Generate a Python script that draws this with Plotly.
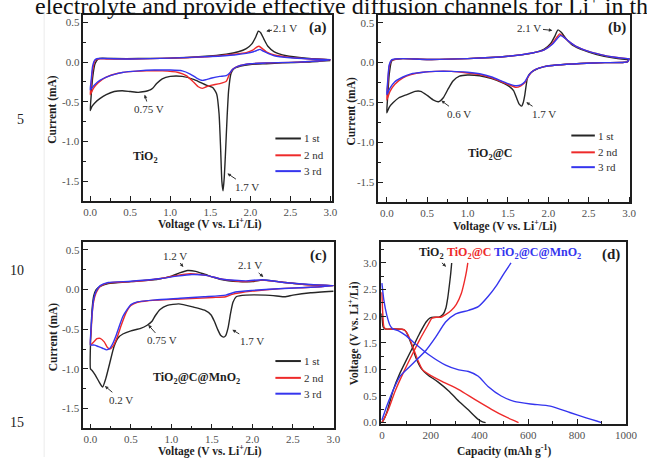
import plotly.graph_objects as go

W, H = 647, 462
FONT = "Liberation Serif"
C_BLACK, C_RED, C_BLUE = "#262626", "#ee2a2a", "#3535ee"

# ---------------- data ----------------
# (a) TiO2 CV, path: cathodic 3.0 -> 0.0 then anodic 0.0 -> 3.0
a1_v = [3.0, 2.7, 2.4, 2.2, 2.0, 1.88, 1.80, 1.76, 1.73, 1.71, 1.69, 1.675, 1.66, 1.645, 1.63, 1.61, 1.58, 1.53, 1.45, 1.3, 1.15, 1.0, 0.9, 0.83, 0.78, 0.75, 0.72, 0.68, 0.6, 0.5, 0.4, 0.3, 0.2, 0.12, 0.06, 0.02, 0.0,
        0.01, 0.03, 0.06, 0.1, 0.15, 0.3, 0.6, 1.0, 1.4, 1.7, 1.85, 1.95, 2.02, 2.07, 2.10, 2.13, 2.17, 2.22, 2.3, 2.45, 2.7, 3.0]
a1_i = [0.02, 0.0, -0.01, -0.02, -0.03, -0.05, -0.08, -0.14, -0.35, -0.7, -1.15, -1.45, -1.62, -1.5, -1.1, -0.65, -0.4, -0.32, -0.29, -0.22, -0.18, -0.18, -0.21, -0.27, -0.33, -0.35, -0.36, -0.37, -0.38, -0.37, -0.36, -0.37, -0.41, -0.46, -0.51, -0.56, -0.61,
        -0.45, -0.2, -0.02, 0.04, 0.05, 0.045, 0.045, 0.05, 0.07, 0.1, 0.13, 0.17, 0.23, 0.32, 0.39, 0.37, 0.29, 0.2, 0.13, 0.08, 0.05, 0.03]
a2_v = [3.0, 2.6, 2.2, 2.0, 1.85, 1.78, 1.74, 1.70, 1.62, 1.52, 1.45, 1.40, 1.35, 1.28, 1.2, 1.1, 0.9, 0.7, 0.5, 0.35, 0.2, 0.1, 0.04, 0.0,
        0.01, 0.03, 0.06, 0.1, 0.2, 0.5, 1.0, 1.5, 1.8, 1.95, 2.03, 2.08, 2.11, 2.15, 2.2, 2.3, 2.5, 2.75, 3.0]
a2_i = [0.03, 0.0, -0.01, -0.02, -0.05, -0.09, -0.15, -0.24, -0.27, -0.29, -0.31, -0.33, -0.31, -0.24, -0.17, -0.13, -0.11, -0.11, -0.12, -0.14, -0.19, -0.26, -0.33, -0.41,
        -0.3, -0.1, 0.02, 0.04, 0.04, 0.04, 0.05, 0.07, 0.1, 0.12, 0.15, 0.19, 0.2, 0.17, 0.13, 0.09, 0.06, 0.04, 0.03]
a3_v = [3.0, 2.6, 2.2, 2.0, 1.85, 1.78, 1.74, 1.70, 1.62, 1.52, 1.45, 1.40, 1.33, 1.25, 1.15, 1.0, 0.8, 0.6, 0.4, 0.25, 0.12, 0.05, 0.0,
        0.01, 0.03, 0.06, 0.1, 0.2, 0.5, 1.0, 1.5, 1.8, 1.95, 2.04, 2.09, 2.12, 2.16, 2.22, 2.3, 2.5, 2.75, 3.0]
a3_i = [0.03, 0.0, -0.01, -0.02, -0.05, -0.09, -0.14, -0.17, -0.18, -0.2, -0.22, -0.23, -0.2, -0.15, -0.11, -0.1, -0.1, -0.11, -0.13, -0.17, -0.23, -0.29, -0.35,
        -0.25, -0.05, 0.03, 0.045, 0.045, 0.04, 0.05, 0.07, 0.09, 0.11, 0.13, 0.15, 0.16, 0.14, 0.11, 0.08, 0.055, 0.04, 0.03]

# (b) TiO2@C CV
b1_v = [3.0, 2.98, 2.7, 2.4, 2.1, 1.95, 1.82, 1.77, 1.74, 1.71, 1.69, 1.67, 1.64, 1.61, 1.57, 1.52, 1.45, 1.3, 1.15, 1.0, 0.9, 0.82, 0.76, 0.7, 0.64, 0.58, 0.5, 0.42, 0.35, 0.25, 0.15, 0.08, 0.03, 0.0,
        0.01, 0.03, 0.06, 0.1, 0.2, 0.5, 1.0, 1.5, 1.8, 1.95, 2.03, 2.08, 2.12, 2.16, 2.22, 2.3, 2.45, 2.6, 2.8, 2.98, 3.0]
b1_i = [0.05, 0.01, 0.0, -0.01, -0.03, -0.05, -0.1, -0.14, -0.2, -0.4, -0.5, -0.545, -0.52, -0.45, -0.35, -0.3, -0.26, -0.2, -0.165, -0.155, -0.17, -0.23, -0.33, -0.44, -0.49, -0.47, -0.41, -0.36, -0.36, -0.40, -0.44, -0.5, -0.56, -0.63,
        -0.45, -0.15, 0.02, 0.04, 0.05, 0.04, 0.05, 0.08, 0.12, 0.17, 0.24, 0.33, 0.41, 0.38, 0.3, 0.22, 0.15, 0.1, 0.06, 0.04, 0.05]
b2_v = [3.0, 2.98, 2.7, 2.4, 2.1, 1.95, 1.85, 1.79, 1.75, 1.71, 1.66, 1.60, 1.52, 1.42, 1.3, 1.15, 1.0, 0.8, 0.6, 0.45, 0.3, 0.2, 0.1, 0.04, 0.0,
        0.01, 0.03, 0.06, 0.1, 0.2, 0.5, 1.0, 1.5, 1.8, 1.95, 2.04, 2.1, 2.14, 2.18, 2.25, 2.35, 2.5, 2.65, 2.8, 2.98, 3.0]
b2_i = [0.05, 0.01, 0.0, -0.01, -0.03, -0.05, -0.08, -0.12, -0.18, -0.25, -0.29, -0.31, -0.28, -0.24, -0.19, -0.15, -0.13, -0.11, -0.11, -0.12, -0.15, -0.19, -0.27, -0.36, -0.47,
        -0.3, -0.05, 0.03, 0.04, 0.05, 0.04, 0.05, 0.08, 0.12, 0.16, 0.23, 0.31, 0.36, 0.33, 0.27, 0.2, 0.14, 0.1, 0.07, 0.05, 0.05]
b3_v = [3.0, 2.98, 2.7, 2.4, 2.1, 1.95, 1.85, 1.79, 1.75, 1.71, 1.66, 1.60, 1.52, 1.42, 1.3, 1.15, 1.0, 0.8, 0.6, 0.45, 0.3, 0.2, 0.1, 0.04, 0.0,
        0.01, 0.03, 0.06, 0.1, 0.2, 0.5, 1.0, 1.5, 1.8, 1.95, 2.05, 2.11, 2.15, 2.19, 2.25, 2.35, 2.5, 2.65, 2.8, 2.98, 3.0]
b3_i = [0.05, 0.01, 0.0, -0.01, -0.03, -0.05, -0.08, -0.12, -0.17, -0.24, -0.28, -0.29, -0.27, -0.23, -0.18, -0.14, -0.12, -0.11, -0.11, -0.12, -0.14, -0.18, -0.24, -0.32, -0.40,
        -0.25, -0.03, 0.035, 0.045, 0.05, 0.04, 0.05, 0.08, 0.12, 0.16, 0.23, 0.3, 0.34, 0.32, 0.27, 0.2, 0.14, 0.1, 0.07, 0.05, 0.05]

# (c) TiO2@C@MnO2 CV
c1_v = [3.0, 2.72, 2.5, 2.4, 2.3, 2.16, 1.92, 1.80, 1.76, 1.73, 1.70, 1.67, 1.645, 1.61, 1.57, 1.53, 1.49, 1.41, 1.27, 1.09, 0.95, 0.86, 0.8, 0.76, 0.7, 0.62, 0.5, 0.4, 0.34, 0.29, 0.24, 0.19, 0.15, 0.11, 0.06, 0.02, 0.0,
        0.0, 0.01, 0.02, 0.04, 0.07, 0.12, 0.22, 0.5, 0.83, 1.0, 1.1, 1.2, 1.3, 1.42, 1.6, 1.83, 2.0, 2.12, 2.25, 2.4, 2.72, 3.0]
c1_i = [-0.02, -0.04, -0.07, -0.09, -0.08, -0.07, -0.07, -0.09, -0.16, -0.3, -0.48, -0.58, -0.60, -0.58, -0.5, -0.4, -0.32, -0.26, -0.22, -0.18, -0.20, -0.25, -0.33, -0.40, -0.45, -0.49, -0.52, -0.56, -0.61, -0.72, -0.92, -1.12, -1.23, -1.17, -1.08, -1.02, -1.0,
        -0.7, -0.45, -0.25, -0.08, 0.0, 0.04, 0.075, 0.10, 0.13, 0.17, 0.21, 0.24, 0.23, 0.19, 0.13, 0.10, 0.10, 0.12, 0.11, 0.09, 0.06, 0.05]
c2_v = [3.0, 2.72, 2.32, 2.0, 1.85, 1.75, 1.67, 1.51, 1.11, 0.71, 0.58, 0.5, 0.44, 0.38, 0.33, 0.28, 0.24, 0.21, 0.17, 0.12, 0.08, 0.04, 0.0,
        0.01, 0.02, 0.04, 0.07, 0.12, 0.22, 0.5, 0.87, 1.07, 1.23, 1.43, 1.63, 1.92, 2.12, 2.4, 2.72, 3.0]
c2_i = [0.05, 0.03, 0.01, -0.02, -0.04, -0.06, -0.09, -0.10, -0.12, -0.14, -0.16, -0.2, -0.29, -0.45, -0.6, -0.71, -0.75, -0.73, -0.66, -0.615, -0.62, -0.66, -0.70,
        -0.5, -0.32, -0.15, -0.04, 0.04, 0.085, 0.10, 0.14, 0.18, 0.20, 0.18, 0.13, 0.10, 0.12, 0.09, 0.06, 0.05]
c3_v = [3.0, 2.72, 2.32, 2.0, 1.79, 1.67, 1.4, 1.11, 0.8, 0.58, 0.5, 0.46, 0.4, 0.36, 0.32, 0.28, 0.24, 0.2, 0.15, 0.1, 0.05, 0.02, 0.0,
        0.01, 0.02, 0.04, 0.07, 0.12, 0.22, 0.5, 0.87, 1.07, 1.25, 1.43, 1.63, 1.92, 2.12, 2.4, 2.72, 3.0]
c3_i = [0.05, 0.03, 0.01, -0.01, -0.03, -0.07, -0.09, -0.11, -0.13, -0.155, -0.19, -0.24, -0.34, -0.45, -0.57, -0.67, -0.74, -0.76, -0.74, -0.72, -0.70, -0.70, -0.70,
        -0.45, -0.3, -0.12, -0.02, 0.05, 0.09, 0.105, 0.14, 0.17, 0.19, 0.18, 0.13, 0.11, 0.125, 0.09, 0.065, 0.05]

# (d) charge/discharge profiles (capacity mAh/g, voltage V)
d_tio2_dis_q = [0, 5, 12, 50, 80, 92, 100, 110, 120, 141, 161, 187, 228, 275, 315, 355, 395, 410, 425]
d_tio2_dis_v = [2.05, 1.80, 1.76, 1.76, 1.755, 1.74, 1.70, 1.60, 1.48, 1.2, 1.02, 0.90, 0.77, 0.59, 0.40, 0.235, 0.06, 0.02, 0.0]
d_tio2_chg_q = [0, 8, 20, 47, 74, 100, 127, 154, 181, 198, 215, 234, 250, 262, 270, 277, 282, 286]
d_tio2_chg_v = [0.0, 0.06, 0.19, 0.62, 0.93, 1.175, 1.42, 1.67, 1.89, 1.97, 1.98, 1.98, 2.03, 2.15, 2.35, 2.6, 2.8, 3.0]
d_c_dis_q = [0, 3, 8, 15, 50, 85, 95, 107, 127, 147, 167, 194, 248, 315, 382, 449, 502, 540, 560]
d_c_dis_v = [2.45, 2.1, 1.8, 1.76, 1.76, 1.755, 1.73, 1.65, 1.42, 1.175, 0.99, 0.90, 0.77, 0.62, 0.43, 0.25, 0.12, 0.04, 0.0]
d_c_chg_q = [0, 10, 27, 54, 87, 120, 154, 187, 205, 222, 241, 261, 285, 305, 325, 338, 347, 352]
d_c_chg_v = [0.0, 0.08, 0.25, 0.59, 0.93, 1.24, 1.55, 1.82, 1.96, 1.98, 1.98, 2.03, 2.11, 2.22, 2.42, 2.65, 2.85, 3.0]
d_mn_dis_q = [0, 8, 20, 33, 45, 70, 100, 127, 194, 261, 315, 355, 395, 435, 489, 542, 609, 690, 770, 837, 880, 900]
d_mn_dis_v = [2.62, 2.3, 2.02, 1.83, 1.76, 1.72, 1.63, 1.52, 1.27, 1.08, 0.99, 0.96, 0.87, 0.68, 0.50, 0.40, 0.35, 0.31, 0.19, 0.09, 0.03, 0.0]
d_mn_chg_q = [0, 10, 20, 47, 74, 127, 181, 221, 261, 301, 355, 395, 435, 470, 500, 529]
d_mn_chg_v = [0.05, 0.18, 0.31, 0.62, 0.87, 1.11, 1.36, 1.61, 1.89, 2.04, 2.11, 2.18, 2.37, 2.58, 2.8, 3.0]

cycle_names = ["1 st", "2 nd", "3 rd"]
cv_x_ticks = [0.0, 0.5, 1.0, 1.5, 2.0, 2.5, 3.0]
cv_x_labels = ["0.0", "0.5", "1.0", "1.5", "2.0", "2.5", "3.0"]
cv_y_ticks = [-1.5, -1.0, -0.5, 0.0, 0.5]
cv_y_labels = ["-1.5", "-1.0", "-0.5", "0.0", "0.5"]
d_x_ticks = [0, 200, 400, 600, 800, 1000]
d_x_labels = ["0", "200", "400", "600", "800", "1000"]
d_y_ticks = [0.0, 0.5, 1.0, 1.5, 2.0, 2.5, 3.0]
d_y_labels = ["0.0", "0.5", "1.0", "1.5", "2.0", "2.5", "3.0"]

# ---------------- figure ----------------
fig = go.Figure()

def px_x(p):
    return p / W

def px_y(p):
    return 1 - p / H

def add_line(x, y, color, xa, ya, name, smooth=0.6):
    fig.add_trace(go.Scatter(x=x, y=y, mode="lines", name=name, showlegend=False,
                             line=dict(color=color, width=1.4, shape="spline", smoothing=smooth),
                             xaxis=xa, yaxis=ya))

colors = [C_BLACK, C_RED, C_BLUE]
panels = [
    (((a1_v, a1_i), (a2_v, a2_i), (a3_v, a3_i)), "x", "y"),
    (((b1_v, b1_i), (b2_v, b2_i), (b3_v, b3_i)), "x2", "y2"),
    (((c1_v, c1_i), (c2_v, c2_i), (c3_v, c3_i)), "x3", "y3"),
]
for curves, xa, ya in panels:
    for (v, i), col, nm in zip(curves, colors, cycle_names):
        add_line(v, i, col, xa, ya, nm, smooth=0.5)

for q, v, col, nm in [(d_tio2_dis_q, d_tio2_dis_v, C_BLACK, "TiO2 discharge"),
                      (d_tio2_chg_q, d_tio2_chg_v, C_BLACK, "TiO2 charge"),
                      (d_c_dis_q, d_c_dis_v, C_RED, "TiO2@C discharge"),
                      (d_c_chg_q, d_c_chg_v, C_RED, "TiO2@C charge"),
                      (d_mn_dis_q, d_mn_dis_v, C_BLUE, "TiO2@C@MnO2 discharge"),
                      (d_mn_chg_q, d_mn_chg_v, C_BLUE, "TiO2@C@MnO2 charge")]:
    add_line(q, v, col, "x4", "y4", nm, smooth=0.6)

tickfont = dict(family=FONT, size=11, color="#505050")

def axis(domain, rng, tv, tt, minor_dtick, anchor):
    return dict(domain=domain, range=rng, anchor=anchor, showline=True, linecolor="#1e1e1e",
                linewidth=1.5, mirror=True, ticks="inside", ticklen=5, tickwidth=1.2,
                tickcolor="#1e1e1e", tickvals=tv, ticktext=tt, tickfont=tickfont,
                minor=dict(ticks="inside", ticklen=3, tickwidth=1, tickcolor="#1e1e1e",
                           dtick=minor_dtick, tick0=0),
                showgrid=False, zeroline=False, fixedrange=True)

fig.update_layout(
    width=W, height=H, margin=dict(l=0, r=0, t=0, b=0),
    paper_bgcolor="white", plot_bgcolor="white", showlegend=False,
    xaxis=axis([px_x(83), px_x(337)], [-0.086, 3.024], cv_x_ticks, cv_x_labels, 0.25, "y"),
    yaxis=axis([px_y(203), px_y(15)], [-1.745, 0.595], cv_y_ticks, cv_y_labels, 0.25, "x"),
    xaxis2=axis([px_x(384), px_x(641)], [-0.105, 3.013], cv_x_ticks, cv_x_labels, 0.25, "y2"),
    yaxis2=axis([px_y(204), px_y(15)], [-1.744, 0.599], cv_y_ticks, cv_y_labels, 0.25, "x2"),
    xaxis3=axis([px_x(83), px_x(339)], [-0.088, 3.01], cv_x_ticks, cv_x_labels, 0.25, "y3"),
    yaxis3=axis([px_y(433), px_y(245)], [-1.75, 0.596], cv_y_ticks, cv_y_labels, 0.25, "x3"),
    xaxis4=axis([px_x(386.7), px_x(636.7)], [-4, 1000], d_x_ticks, d_x_labels, 100, "y4"),
    yaxis4=axis([px_y(428.3), px_y(244.3)], [-0.02, 3.40], d_y_ticks, d_y_labels, 0.25, "x4"),
)

ann = []
TXT = dict(family=FONT, size=11, color="#303030")
BOLD = dict(family=FONT, size=12, color="#1e1e1e")

def arrow_note(text, xa, ya, hx, hy, tx, ty, font=TXT):
    ann.append(dict(text=text, xref=xa, yref=ya, x=hx, y=hy, axref=xa, ayref=ya, ax=tx, ay=ty,
                    showarrow=True, arrowhead=2, arrowsize=0.7, arrowwidth=1, arrowcolor="#303030",
                    font=font, standoff=0, startstandoff=0))

def note(text, xa, ya, x, y, font=TXT, xanchor="center"):
    ann.append(dict(text=text, xref=xa, yref=ya, x=x, y=y, showarrow=False, font=font, xanchor=xanchor))

# panel (a)
arrow_note("2.1 V", "x", "y", 2.20, 0.39, 2.44, 0.43)
arrow_note("0.75 V", "x", "y", 0.68, -0.41, 0.735, -0.59)
arrow_note("1.7 V", "x", "y", 1.714, -1.40, 1.96, -1.567)
note("<b>TiO<sub>2</sub></b>", "x", "y", 0.69, -1.195, BOLD)
note("<b>(a)</b>", "x", "y", 2.85, 0.437, dict(family=FONT, size=15, color="#1e1e1e"))
# panel (b)
arrow_note("2.1 V", "x2", "y2", 2.05, 0.404, 1.767, 0.434)
arrow_note("0.6 V", "x2", "y2", 0.675, -0.476, 0.898, -0.641)
arrow_note("1.7 V", "x2", "y2", 1.727, -0.496, 1.949, -0.641)
note("<b>TiO<sub>2</sub>@C</b>", "x2", "y2", 1.28, -1.149, BOLD)
note("<b>(b)</b>", "x2", "y2", 2.855, 0.446, dict(family=FONT, size=15, color="#1e1e1e"))
# panel (c)
arrow_note("1.2 V", "x3", "y3", 1.146, 0.284, 1.04, 0.43)
arrow_note("2.1 V", "x3", "y3", 2.135, 0.159, 1.97, 0.305)
arrow_note("0.75 V", "x3", "y3", 0.714, -0.445, 0.884, -0.641)
arrow_note("1.7 V", "x3", "y3", 1.752, -0.5075, 1.994, -0.654)
arrow_note("0.2 V", "x3", "y3", 0.178, -1.216, 0.38, -1.39)
note("<b>TiO<sub>2</sub>@C@MnO<sub>2</sub></b>", "x3", "y3", 1.307, -1.1125, BOLD)
note("<b>(c)</b>", "x3", "y3", 2.82, 0.43, dict(family=FONT, size=15, color="#1e1e1e"))
# panel (d)
arrow_note("<b>TiO<sub>2</sub></b>", "x4", "y4", 263, 2.93, 203, 3.18, BOLD)
note("<b>TiO<sub>2</sub>@C</b>", "x4", "y4", 355, 3.18, dict(family=FONT, size=12, color=C_RED))
note("<b>TiO<sub>2</sub>@C@MnO<sub>2</sub></b>", "x4", "y4", 638, 3.18, dict(family=FONT, size=12, color=C_BLUE))
note("<b>(d)</b>", "x4", "y4", 940, 3.15, dict(family=FONT, size=15, color="#1e1e1e"))

# axis titles (paper, pixel positions)
TITLE = dict(family=FONT, size=11.5, color="#1e1e1e")
def ptext(text, x, y, font, angle=0, xanchor="center", yanchor="middle"):
    ann.append(dict(text=text, xref="paper", yref="paper", x=px_x(x), y=px_y(y), showarrow=False,
                    font=font, textangle=angle, xanchor=xanchor, yanchor=yanchor))

ptext("<b>Current (mA)</b>", 52, 110, TITLE, -90)
ptext("<b>Current (mA)</b>", 357, 112, TITLE, -90)
ptext("<b>Current (mA)</b>", 52, 340, TITLE, -90)
ptext("<b>Voltage (V vs. Li<sup>+</sup>/Li)</b>", 359, 337, TITLE, -90)
ptext("<b>Voltage (V vs. Li<sup>+</sup>/Li)</b>", 212, 226, TITLE)
ptext("<b>Voltage (V vs. Li<sup>+</sup>/Li)</b>", 513, 228, TITLE)
ptext("<b>Voltage (V vs. Li<sup>+</sup>/Li)</b>", 212, 455, TITLE)
ptext("<b>Capacity (mAh g<sup>-1</sup>)</b>", 512, 455, TITLE)

# page text around the figure (cropped scan of the paper's body text)
ptext("electrolyte and provide effective diffusion channels for Li<sup>+</sup> in the", 32, 4,
      dict(family=FONT, size=24, color="#111111"), xanchor="left")
ptext("5", 19, 121, dict(family=FONT, size=14, color="#222222"))
ptext("10", 15, 273, dict(family=FONT, size=14, color="#222222"))
ptext("15", 15, 427, dict(family=FONT, size=14, color="#222222"))

# legends (line samples + labels)
shapes = []
legend_pos = [(279, 305, [140, 157, 173]), (581, 605, [137, 154, 169]), (279, 305, [365, 382, 398])]
for x0, x1, ys in legend_pos:
    for yy, col, nm in zip(ys, colors, cycle_names):
        shapes.append(dict(type="line", xref="paper", yref="paper", x0=px_x(x0), x1=px_x(x1),
                           y0=px_y(yy), y1=px_y(yy), line=dict(color=col, width=2)))
        ptext(nm, x1 + 1, yy, dict(family=FONT, size=11, color="#303030"), xanchor="left")

shapes.append(dict(type="line", xref="paper", yref="paper", x0=px_x(43), x1=px_x(43),
                   y0=px_y(14), y1=0, line=dict(color="#ebebeb", width=1)))

fig.update_layout(annotations=ann, shapes=shapes)
fig.write_html("out.html")
